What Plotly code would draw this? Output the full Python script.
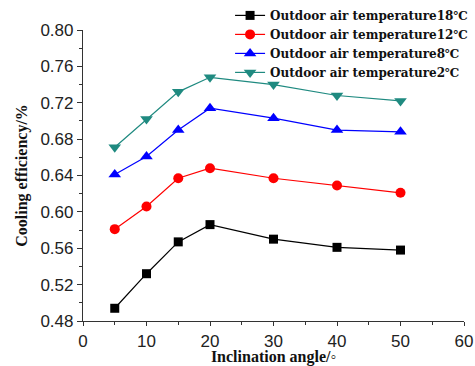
import plotly.graph_objects as go

angles = [5, 10, 15, 20, 30, 40, 50]
t18 = [0.494, 0.532, 0.567, 0.586, 0.570, 0.561, 0.558]
t12 = [0.581, 0.606, 0.637, 0.648, 0.637, 0.629, 0.621]
t8 = [0.641, 0.661, 0.690, 0.714, 0.703, 0.690, 0.688]
t2 = [0.671, 0.702, 0.732, 0.748, 0.740, 0.728, 0.722]
names = ["Outdoor air temperature18\u2103", "Outdoor air temperature12\u2103",
         "Outdoor air temperature8\u2103", "Outdoor air temperature2\u2103"]
colors = ["#000000", "#ff0000", "#0000ff", "#1f8a80"]
symbols = ["square", "circle", "triangle-up", "triangle-down"]
sizes = [9, 10, 11, 11]

fig = go.Figure()
for ys, n, c, s, sz in zip([t18, t12, t8, t2], names, colors, symbols, sizes):
    fig.add_trace(go.Scatter(x=angles, y=ys, name=n, mode="lines+markers",
                             line=dict(color=c, width=1.2),
                             marker=dict(symbol=s, size=sz, color=c)))

axis_common = dict(showline=True, linecolor="#333", linewidth=1.2, ticks="outside",
                   tickcolor="#333", showgrid=False, zeroline=False,
                   tickfont=dict(family="Liberation Sans, Arial", size=17, color="#222"),
                   mirror=False, automargin=False)
fig.update_xaxes(range=[0, 60], dtick=10, tick0=0, ticklen=4,
                 minor=dict(ticks="outside", ticklen=3, dtick=5, tickcolor="#333"),
                 title=dict(text="Inclination angle/\u25e6", standoff=7,
                            font=dict(family="Liberation Serif, Times New Roman", size=16, color="#111", weight="bold")),
                 **axis_common)
fig.update_yaxes(range=[0.48, 0.80], dtick=0.04, tick0=0.48, tickformat=".2f", ticklen=5,
                 minor=dict(ticks="outside", ticklen=3, dtick=0.02, tickcolor="#333"),
                 title=dict(text="Cooling efficiency/%", standoff=8,
                            font=dict(family="Liberation Serif, Times New Roman", size=16, color="#111", weight="bold")),
                 **axis_common)
fig.update_layout(width=475, height=366,
                  margin=dict(l=83, r=11, t=30, b=45, autoexpand=False),
                  paper_bgcolor="white", plot_bgcolor="white",
                  legend=dict(x=0.386, y=1.1, xanchor="left", yanchor="top",
                              bgcolor="rgba(0,0,0,0)", tracegroupgap=0, itemwidth=30,
                              font=dict(family="DejaVu Serif", size=12, color="#111", weight="bold")),
                  )
fig.write_html("out.html", config={"displayModeBar": False},
               post_script="document.body.style.margin='0';")
